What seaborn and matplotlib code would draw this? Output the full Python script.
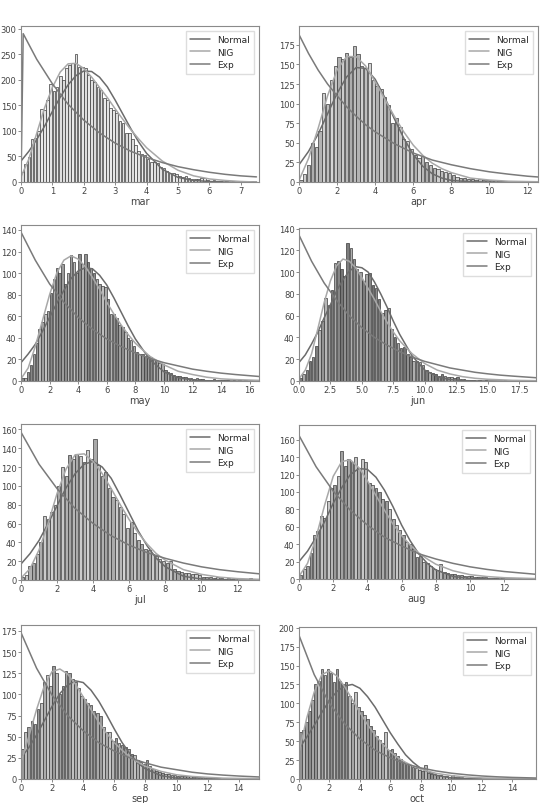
import numpy as np
import matplotlib
matplotlib.use("Agg")
import matplotlib.pyplot as plt
from matplotlib.ticker import MultipleLocator
import seaborn as sns

# =============================================================================
# DATA
# =============================================================================
MONTHS = ["mar", "apr", "may", "jun", "jul", "aug", "sep", "oct"]
BIN_WIDTHS = [0.1, 0.2, 0.2, 0.25, 0.2, 0.2, 0.2, 0.2]
CURVE_LABELS = ["Normal", "NIG", "Exp"]

# --- histogram counts (bins start at 0) ---
MAR_COUNTS = [20, 35, 48, 85, 87, 100, 143, 140, 160, 192, 178, 185, 207, 200, 222, 228,
              232, 250, 225, 225, 222, 210, 200, 195, 185, 180, 165, 160, 145, 140, 135,
              120, 115, 95, 95, 85, 72, 60, 55, 52, 45, 40, 40, 38, 30, 27, 22, 18, 17, 15,
              12, 10, 11, 8, 6, 5, 6, 7, 7, 4, 2, 4, 1, 1, 0, 1, 0, 1, 0, 0, 1, 0, 0, 1]
APR_COUNTS = [3, 10, 22, 50, 45, 65, 113, 100, 130, 148, 160, 157, 165, 160, 173, 163, 148,
              145, 152, 130, 122, 118, 108, 98, 75, 82, 70, 55, 52, 42, 35, 30, 33, 25, 22,
              18, 16, 14, 13, 11, 9, 6, 5, 5, 4, 4, 3, 4, 2, 2, 2, 3, 1, 1, 1, 1, 0, 1, 0,
              0, 0, 1]
MAY_COUNTS = [3, 3, 8, 15, 25, 35, 48, 55, 62, 65, 82, 95, 105, 100, 108, 90, 100, 117, 110,
              100, 118, 108, 118, 110, 105, 100, 95, 90, 88, 87, 76, 62, 62, 58, 52, 50, 45,
              40, 38, 32, 27, 25, 25, 23, 24, 22, 20, 19, 17, 16, 10, 8, 7, 6, 5, 5, 4, 4, 3,
              3, 2, 3, 2, 2, 1, 1, 1, 2, 1, 1, 1, 1, 1, 0, 1, 0, 1, 0, 1, 0, 1]
JUN_COUNTS = [3, 6, 10, 18, 22, 32, 47, 55, 76, 70, 84, 108, 110, 103, 96, 127, 122, 112, 103,
              100, 92, 98, 99, 88, 85, 75, 62, 65, 67, 48, 40, 35, 30, 31, 25, 22, 18, 18, 17,
              15, 10, 8, 7, 6, 5, 6, 5, 4, 4, 3, 4, 2, 2, 1, 1, 1, 0, 1, 0, 1, 0, 0, 0, 0, 0,
              1, 0, 0, 1]
JUL_COUNTS = [3, 5, 15, 18, 28, 40, 68, 65, 72, 80, 100, 120, 110, 133, 128, 134, 132, 125,
              138, 128, 150, 122, 110, 115, 98, 88, 85, 78, 70, 55, 62, 50, 42, 38, 33, 32, 28,
              25, 22, 20, 18, 20, 12, 10, 9, 7, 7, 6, 6, 5, 3, 3, 3, 2, 3, 2, 1, 2, 1, 2, 0, 0,
              0, 2]
AUG_COUNTS = [5, 12, 15, 30, 50, 55, 72, 70, 90, 105, 108, 118, 147, 130, 138, 135, 140, 128,
              138, 134, 110, 108, 105, 100, 92, 90, 80, 69, 62, 56, 50, 42, 40, 35, 25, 26, 20,
              18, 15, 12, 10, 17, 8, 7, 6, 6, 5, 5, 4, 4, 3, 2, 2, 2, 2, 1, 1, 1, 2, 1, 0, 0,
              0, 0, 1]
SEP_COUNTS = [35, 55, 62, 68, 65, 83, 90, 115, 123, 110, 133, 125, 100, 110, 128, 125, 118,
              115, 108, 98, 95, 90, 88, 80, 78, 75, 62, 55, 55, 45, 48, 43, 40, 38, 35, 30, 28,
              22, 20, 18, 22, 15, 12, 10, 8, 7, 6, 6, 5, 5, 4, 4, 3, 3, 3, 2, 2, 2, 2, 1, 1, 1,
              1, 1, 0, 1, 1, 0, 1, 1, 1, 1, 1, 1, 1, 1]
OCT_COUNTS = [62, 65, 75, 90, 105, 125, 130, 145, 138, 145, 140, 128, 146, 130, 125, 128, 110,
              100, 115, 95, 90, 85, 80, 70, 65, 57, 52, 48, 62, 38, 40, 35, 30, 27, 22, 20, 18,
              16, 14, 12, 10, 18, 8, 7, 6, 5, 5, 4, 4, 3, 5, 2, 2, 2, 1, 1, 1, 1, 1, 1]

# --- fitted curves: Normal / NIG share an x grid, Exp has its own ---
MAR_X = [0, 0.25, 0.5, 0.75, 1.0, 1.25, 1.5, 1.75, 2.0, 2.25, 2.5, 2.75, 3.0, 3.25, 3.5,
         3.75, 4.0, 4.5, 5.0, 5.5, 6.0, 6.5, 7.0, 7.5]
MAR_NORMAL = [41, 60, 83, 109, 138, 166, 190, 208, 217, 216, 205, 186, 160, 132, 104, 78, 56,
              25, 9, 3, 1, 0, 0, 0]
MAR_NIG = [10, 45, 95, 145, 185, 215, 231, 232, 222, 205, 185, 165, 143, 122, 102, 84, 67, 41,
           23, 12, 6, 3, 1, 0]
MAR_EXP_X = [0, 0.07, 0.5, 1, 1.5, 2, 2.5, 3, 3.5, 4, 4.5, 5, 5.5, 6, 6.5, 7, 7.5]
MAR_EXP = [0, 290, 240, 192, 152, 121, 96, 76, 60, 48, 38, 30, 24, 19, 15, 12, 10]

APR_X = [0, 0.5, 1, 1.5, 2, 2.5, 3, 3.5, 4, 4.5, 5, 5.5, 6, 6.5, 7, 7.5, 8, 9, 10, 11, 12.55]
APR_NORMAL = [22, 39, 61, 87, 113, 134, 146, 145, 131, 108, 81, 56, 35, 20, 10.5, 5, 2, 0.3,
              0, 0, 0]
APR_NIG = [2, 30, 68, 110, 143, 160, 160, 148, 128, 106, 84, 64, 47, 34, 24, 17, 12, 5, 2.5,
           1, 0.3]
APR_EXP_X = [0, 0.5, 1, 1.5, 2, 2.5, 3, 3.5, 4, 5, 6, 7, 8, 9, 10, 11, 12, 12.55]
APR_EXP = [188, 164, 143, 125, 110, 96, 84, 73, 64, 49, 37, 28, 22, 17, 13, 10, 7.4, 6.4]

MAY_X = [0, 0.5, 1, 1.5, 2, 2.5, 3, 3.5, 4, 4.5, 5, 5.5, 6, 6.5, 7, 7.5, 8, 9, 10, 11, 12,
         13, 14, 15, 16.65]
MAY_NORMAL = [17, 25, 34, 46, 59, 72, 84, 95, 102, 105, 104, 98, 89, 77, 64, 51, 39, 20, 8.5,
              3, 1, 0.2, 0, 0, 0]
MAY_NIG = [2, 12, 32, 56, 80, 100, 112, 116, 113, 106, 96, 85, 73, 62, 52, 43, 35, 23, 15, 9,
           6, 3.5, 2, 1.3, 0.6]
MAY_EXP_X = [0, 1, 2, 3, 4, 5, 6, 7, 8, 9, 10, 11, 12, 13, 14, 15, 16.65]
MAY_EXP = [138, 112, 90, 73, 59, 48, 39, 32, 26, 21, 17, 14, 11, 9, 7.3, 6, 4.2]

JUN_X = [0, 0.5, 1, 1.5, 2, 2.5, 3, 3.5, 4, 4.5, 5, 5.5, 6, 6.5, 7, 7.5, 8, 9, 10, 11, 12,
         13, 14, 15, 17, 18.85]
JUN_NORMAL = [17, 24, 34, 45, 58, 70, 83, 93, 101, 105, 104, 100, 91, 80, 68, 55, 43, 23, 10,
              4, 1.3, 0.4, 0.1, 0, 0, 0]
JUN_NIG = [2, 10, 25, 48, 72, 92, 106, 112, 110, 104, 95, 85, 75, 64, 54, 45, 37, 25, 16, 10,
           6.5, 4, 2.5, 1.6, 0.6, 0.3]
JUN_EXP_X = [0, 1, 2, 3, 4, 5, 6, 7, 8, 9, 10, 11, 12, 13, 14, 15, 16, 17, 18.85]
JUN_EXP = [134, 110, 90, 74, 60, 49, 40, 33, 27, 22, 18, 15, 12, 10, 8, 6.6, 5.4, 4.5, 3]

JUL_X = [0, 0.5, 1, 1.5, 2, 2.5, 3, 3.5, 4, 4.5, 5, 5.5, 6, 6.5, 7, 7.5, 8, 9, 10, 11, 12,
         13.19]
JUL_NORMAL = [17, 28, 42, 60, 79, 98, 113, 123, 126, 120, 108, 90, 71, 52, 36, 23, 14, 4, 1,
              0.2, 0, 0]
JUL_NIG = [2, 12, 32, 60, 92, 118, 133, 134, 126, 113, 97, 80, 64, 50, 38, 28, 21, 11, 6, 3,
           1.5, 0.7]
JUL_EXP_X = [0, 1, 2, 3, 4, 5, 6, 7, 8, 9, 10, 11, 12, 13.19]
JUL_EXP = [157, 123, 97, 76, 60, 47, 37, 29, 23, 18, 14, 11, 8.8, 6.6]

AUG_X = [0, 0.5, 1, 1.5, 2, 2.5, 3, 3.5, 4, 4.5, 5, 5.5, 6, 6.5, 7, 7.5, 8, 9, 10, 11, 12,
         13.8]
AUG_NORMAL = [20, 32, 48, 66, 87, 105, 120, 127, 126, 117, 102, 83, 62, 44, 29, 18, 10.5, 3,
              0.6, 0.1, 0, 0]
AUG_NIG = [3, 18, 48, 85, 118, 135, 137, 128, 113, 96, 79, 63, 50, 39, 30, 23, 17, 9.5, 5,
           2.8, 1.5, 0.5]
AUG_EXP_X = [0, 1, 2, 3, 4, 5, 6, 7, 8, 9, 10, 11, 12, 13.8]
AUG_EXP = [165, 129, 101, 79, 62, 48, 38, 29, 23, 18, 14, 11, 8.6, 5.5]

SEP_X = [0, 0.5, 1, 1.5, 2, 2.5, 3, 3.5, 4, 4.5, 5, 5.5, 6, 6.5, 7, 7.5, 8, 9, 10, 11, 12,
         13, 15.3]
SEP_NORMAL = [25, 37, 52, 69, 86, 101, 111, 116, 114, 105, 92, 76, 59, 43, 30, 19, 12, 4, 1,
              0.2, 0, 0, 0]
SEP_NIG = [20, 50, 82, 110, 127, 130, 124, 112, 97, 82, 67, 54, 43, 34, 26, 20, 15, 9, 5, 3,
           2, 1, 0.4]
SEP_EXP_X = [0, 1, 2, 3, 4, 5, 6, 7, 8, 9, 10, 11, 12, 13, 14, 15.3]
SEP_EXP = [173, 131, 99, 75, 57, 43, 33, 25, 19, 14, 11, 8, 6, 4.6, 3.5, 2.4]

OCT_X = [0, 0.5, 1, 1.5, 2, 2.5, 3, 3.5, 4, 4.5, 5, 5.5, 6, 6.5, 7, 7.5, 8, 9, 10, 11, 12,
         13, 15.57]
OCT_NORMAL = [40, 55, 71, 88, 104, 116, 123, 125, 120, 109, 95, 78, 61, 46, 32, 22, 14, 5,
              1.4, 0.3, 0, 0, 0]
OCT_NIG = [35, 80, 115, 138, 143, 136, 122, 105, 88, 72, 58, 46, 36, 28, 22, 17, 13, 7.5, 4.5,
           2.6, 1.5, 0.9, 0.3]
OCT_EXP_X = [0, 1, 2, 3, 4, 5, 6, 7, 8, 9, 10, 11, 12, 13, 14, 15.57]
OCT_EXP = [190, 138, 100, 73, 53, 38, 28, 20, 14.7, 10.7, 7.7, 5.6, 4, 2.9, 2.1, 1.3]

COUNTS = [MAR_COUNTS, APR_COUNTS, MAY_COUNTS, JUN_COUNTS, JUL_COUNTS, AUG_COUNTS, SEP_COUNTS,
          OCT_COUNTS]
CURVE_X = [MAR_X, APR_X, MAY_X, JUN_X, JUL_X, AUG_X, SEP_X, OCT_X]
NORMALS = [MAR_NORMAL, APR_NORMAL, MAY_NORMAL, JUN_NORMAL, JUL_NORMAL, AUG_NORMAL, SEP_NORMAL,
           OCT_NORMAL]
NIGS = [MAR_NIG, APR_NIG, MAY_NIG, JUN_NIG, JUL_NIG, AUG_NIG, SEP_NIG, OCT_NIG]
EXP_X = [MAR_EXP_X, APR_EXP_X, MAY_EXP_X, JUN_EXP_X, JUL_EXP_X, AUG_EXP_X, SEP_EXP_X, OCT_EXP_X]
EXPS = [MAR_EXP, APR_EXP, MAY_EXP, JUN_EXP, JUL_EXP, AUG_EXP, SEP_EXP, OCT_EXP]

# =============================================================================
# LAYOUT / STYLE
# =============================================================================
W, H = 542, 804
# (left, top, right, bottom) in pixels
BOXES = [(21, 27, 259, 183), (299, 27, 538, 183),
         (21, 226, 259, 382), (299, 229, 536, 382),
         (21, 425, 259, 581), (299, 426, 535, 580),
         (21, 626, 259, 780), (299, 628, 536, 780)]
XLIMS = [7.58, 12.55, 16.65, 18.85, 13.19, 13.8, 15.3, 15.57]
YLIMS = [305, 199, 144.6, 140.5, 165.7, 177, 182, 201]
XSTEPS = [1, 2, 2, 2.5, 2, 2, 2, 2]
YSTEPS = [50, 25, 20, 20, 20, 20, 25, 25]
# how much the bar greys are washed toward white in each panel
WASH = [0.78, 0.5, 0.25, 0.15, 0.45, 0.35, 0.35, 0.3]
BASE_GREYS = [0.39, 0.60, 0.44, 0.36, 0.49, 0.40, 0.63, 0.50, 0.67, 0.56]
LINE_COLORS = ["#6b6b6b", "#a8a8a8", "#7a7a7a"]

sns.set_theme(style="ticks")
plt.rcParams.update({
    "axes.edgecolor": "#8a8a8a",
    "axes.linewidth": 0.8,
    "xtick.color": "#777777",
    "ytick.color": "#777777",
    "xtick.labelcolor": "#444444",
    "ytick.labelcolor": "#444444",
    "xtick.labelsize": 6,
    "ytick.labelsize": 6,
    "xtick.major.size": 2.2,
    "ytick.major.size": 2.2,
    "xtick.major.width": 0.6,
    "ytick.major.width": 0.6,
    "axes.labelsize": 7,
    "axes.labelcolor": "#444444",
})

fig = plt.figure(figsize=(W / 100, H / 100), dpi=100)
# heading of the page, almost entirely cut off at the top edge
fig.text(0.229, 1.0 + 7 / H, "Appendix", fontsize=11, fontweight="bold", va="baseline",
         color="#222222")

for i, month in enumerate(MONTHS):
    l, t, r, b = BOXES[i]
    ax = fig.add_axes([l / W, 1 - b / H, (r - l) / W, (b - t) / H])

    counts = np.array(COUNTS[i], dtype=float)
    bw = BIN_WIDTHS[i]
    centers = bw * (np.arange(len(counts)) + 0.5)
    sns.histplot(x=centers, weights=counts, binwidth=bw, binrange=(0, bw * len(counts)),
                 shrink=0.85, edgecolor="#3a3a3a", linewidth=0.5, alpha=1, ax=ax)
    for k, patch in enumerate(ax.patches):
        g = BASE_GREYS[k % len(BASE_GREYS)]
        g = g + (1 - g) * WASH[i]
        patch.set_facecolor((g, g, g))

    sns.lineplot(x=CURVE_X[i], y=NORMALS[i], color=LINE_COLORS[0], lw=1.1,
                 label=CURVE_LABELS[0], sort=False, ax=ax)
    sns.lineplot(x=CURVE_X[i], y=NIGS[i], color=LINE_COLORS[1], lw=1.1,
                 label=CURVE_LABELS[1], sort=False, ax=ax)
    sns.lineplot(x=EXP_X[i], y=EXPS[i], color=LINE_COLORS[2], lw=1.1,
                 label=CURVE_LABELS[2], sort=False, ax=ax)

    ax.set_xlim(0, XLIMS[i])
    ax.set_ylim(0, YLIMS[i])
    ax.xaxis.set_major_locator(MultipleLocator(XSTEPS[i]))
    ax.yaxis.set_major_locator(MultipleLocator(YSTEPS[i]))
    if XSTEPS[i] == 2.5:
        ax.xaxis.set_major_formatter(matplotlib.ticker.FormatStrFormatter("%.1f"))
    ax.tick_params(pad=1)
    ax.set_xlabel(month, labelpad=0.3)
    ax.set_ylabel("")
    ax.legend(loc="upper right", fontsize=6.5, frameon=True, fancybox=False,
              edgecolor="#dddddd", framealpha=1, handlelength=2.2, borderpad=0.5,
              labelspacing=0.4)
    for sp in ax.spines.values():
        sp.set_visible(True)

fig.savefig("out.png", dpi=100)
